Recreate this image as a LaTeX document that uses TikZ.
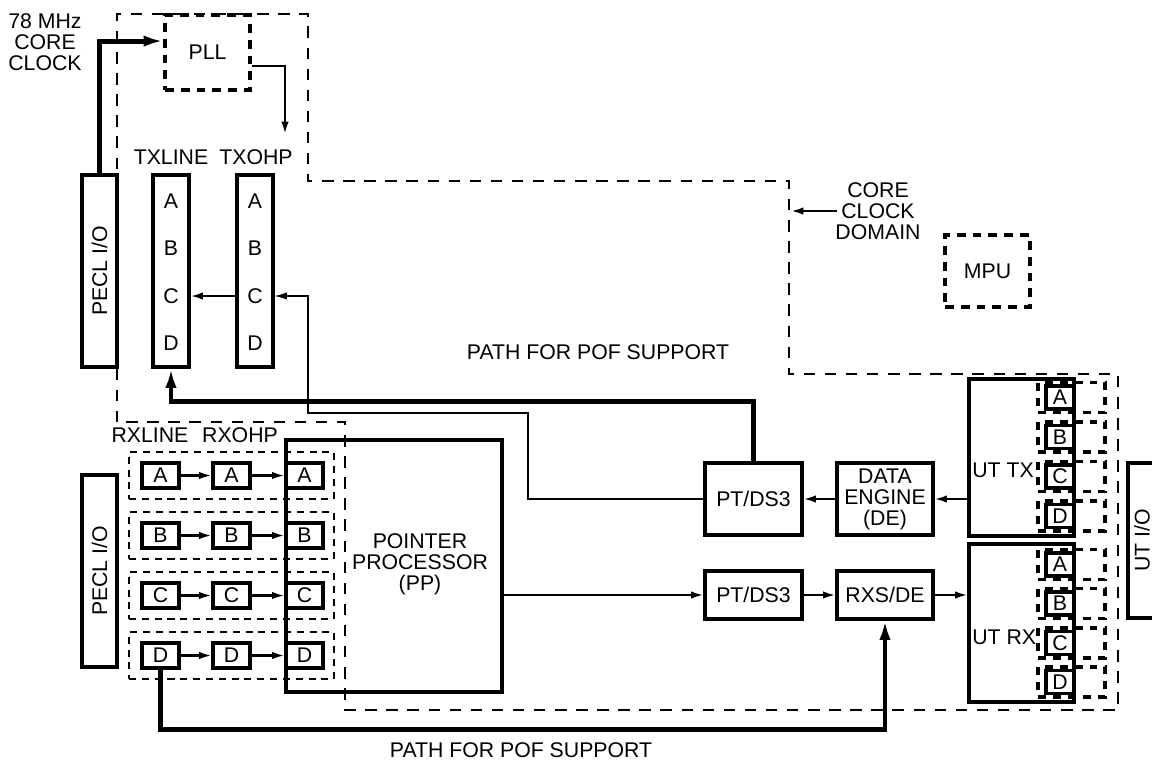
\documentclass[tikz,border=0pt]{standalone}
\usepackage{fontspec}
\setmainfont{Liberation Sans}
\usetikzlibrary{arrows.meta,calc}
\newcommand{\dfont}{\fontsize{12.1pt}{11.9pt}\selectfont}
\tikzset{
  blk/.style={draw, line width=1.8pt, inner sep=0pt, align=center},
  sz/.style 2 args={minimum width=#1*0.02cm, minimum height=#2*0.02cm},
  sbox/.style={blk, sz={37}{25}},
  dashbox/.style={line width=2.2pt, dash pattern=on 5pt off 4pt},
  grp/.style={draw, line width=1.6pt, dash pattern=on 4pt off 3.3pt},
  udash/.style={draw, line width=1.8pt, dash pattern=on 4.5pt off 4pt},
  clkdom/.style={line width=1.1pt, dash pattern=on 6.5pt off 5.5pt},
  arr/.style={line width=1.2pt, -{Latex[length=7pt,width=4.2pt]}},
  fine/.style={line width=0.7pt, -{Latex[length=7pt,width=4.2pt]}},
  pof/.style={line width=2.8pt, -{Latex[length=11pt,width=6.5pt]}}
}
\begin{document}
\begin{tikzpicture}[x=0.02cm, y=-0.02cm, every node/.style={font=\dfont, align=center}]
  \useasboundingbox (0,0) rectangle (1152,761);
  \clip (0,0) rectangle (1152,761);

  % dominio del core clock
  \draw[clkdom] (117,422) -- (117,14) -- (308,14) -- (308,181) -- (789,181)
    -- (789,374) -- (1118,374) -- (1118,710) -- (345,710) -- (345,422) -- cycle;
  \node[inner sep=1pt] (ccd) at (878,211) {CORE\\CLOCK\\DOMAIN};
  \coordinate (ccdtip) at (791,211);
  \draw[arr] ($(ccd.west)+(4,0)$) -- (ccdtip);

  % clock e PLL
  \node (clk) at (45,42) {78 MHz\\CORE\\CLOCK};
  \node[blk, dashbox, sz={85}{75}] (pll) at (207.5,52.5) {PLL};
  \node[blk, dashbox, sz={85}{72}] (mpu) at (987.5,271) {MPU};

  % lato trasmissione
  \node[blk, sz={192}{35}, rotate=90] (pecltx) at (99.5,271) {PECL I/O};
  \node[blk, sz={36}{192}] (txline) at (171,271) {};
  \node[blk, sz={36}{192}] (txohp) at (255,271) {};
  \node (txlinelbl) at (171,157) {TXLINE};
  \node (txohplbl) at (256,157) {TXOHP};
  \foreach \l/\y in {A/201,B/248,C/296,D/343} {
    \node (txl\l) at (171,\y) {\l};
    \node (txo\l) at (255,\y) {\l};
  }
  \draw[arr] (txohp.west |- txoC) -- (txline.east |- txoC);
  \draw[pof] (pecltx.east) |- ($(pll.north west)+(0,28)$);
  \coordinate (pllout) at (285,134);
  \draw[arr] ($(pll.north east)+(0,53)$) -| (pllout);

  % lato ricezione
  \node[blk, sz={192}{35}, rotate=90] (peclrx) at (99.5,571) {PECL I/O};
  \node (rxlinelbl) at (150,435) {RXLINE};
  \node (rxohplbl) at (240,435) {RXOHP};
  \node[blk, sz={216}{252}] (pp) at (394,566) {};
  \node (pptxt) at (420,564) {POINTER\\PROCESSOR\\(PP)};
  \foreach \l/\y in {A/475.5,B/535.5,C/595.5,D/655.5} {
    \node[grp, sz={205}{47}] (g\l) at (231.5,\y) {};
    \node[sbox] (ra\l) at (160.5,\y) {\l};
    \node[sbox] (rb\l) at (231.5,\y) {\l};
    \node[sbox] (rc\l) at (304.5,\y) {\l};
    \draw[arr] (ra\l) -- (rb\l);
    \draw[arr] (rb\l) -- (rc\l);
  }

  % blocchi PT/DS3, DE e UT
  \node[blk, sz={97}{72}] (pttx) at (753.5,499) {PT/DS3};
  \node[blk, sz={96}{72}] (de) at (885,499) {DATA\\ENGINE\\(DE)};
  \node[blk, sz={97}{48}] (ptrx) at (753.5,595) {PT/DS3};
  \node[blk, sz={96}{48}] (rxs) at (885,595) {RXS/DE};
  \node[blk, sz={105}{157}] (uttx) at (1021.5,457.5) {};
  \node[blk, sz={105}{158}] (utrx) at (1021.5,623) {};
  \node[anchor=west, inner sep=0pt] (uttxlbl) at (972,470) {UT TX};
  \node[anchor=west, inner sep=0pt] (utrxlbl) at (972,637) {UT RX};
  \node[blk, sz={155}{28}, rotate=90] (utio) at (1142,540.5) {UT I/O};
  \foreach \l/\y in {A/397.5,B/437,C/476.5,D/516} {
    \node[udash, sz={67}{30}] (utgt\l) at (1071.5,\y) {};
    \node[sbox, sz={28}{23}] (utt\l) at (1060,\y) {\l};
  }
  \foreach \l/\y in {A/564.5,B/603.5,C/643,D/682} {
    \node[udash, sz={67}{30}] (utgr\l) at (1071.5,\y) {};
    \node[sbox, sz={28}{23}] (utr\l) at (1060,\y) {\l};
  }

  % connessioni
  \draw[arr] (uttx.west |- de.east) -- (de.east);
  \draw[arr] (de.west) -- (pttx.east);
  \draw[arr] (pp.east |- ptrx.west) -- (ptrx.west);
  \draw[arr] (ptrx.east) -- (rxs.west);
  \draw[arr] (rxs.east) -- (utrx.west |- rxs.east);
  \draw[fine] (pttx.west) -| (528,413) -| (308,296) -- (txohp.east |- txoC);

  % percorsi POF
  \draw[pof] (pttx.north) -- ++(0,-60) -| (txline.south);
  \draw[pof] (raD.south) -- ++(0,60) -| (rxs.south);
  \node (poftop) at (598,352) {PATH FOR POF SUPPORT};
  \node (pofbot) at (521,750) {PATH FOR POF SUPPORT};
\end{tikzpicture}
\end{document}
